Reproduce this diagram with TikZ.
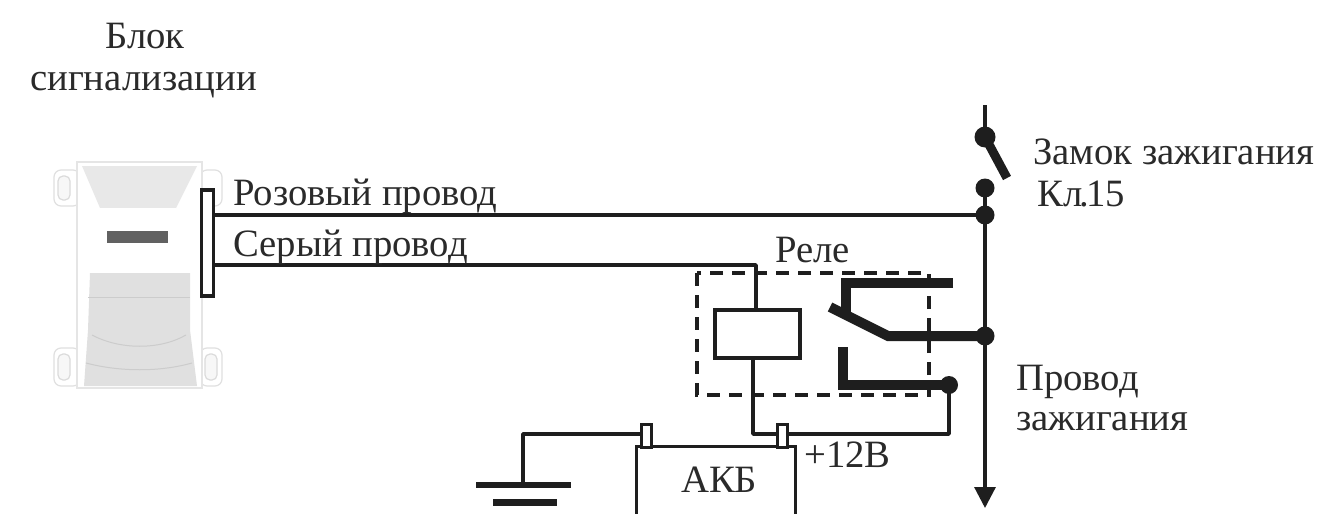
\documentclass[tikz,border=0pt]{standalone}
\usepackage{fontspec}
\setmainfont{Liberation Serif}
\usetikzlibrary{arrows.meta}
\definecolor{ink}{HTML}{1E1E1E}
\definecolor{txt}{HTML}{2A2A2A}
\tikzset{
  x=1pt,y=-1pt,
  wire/.style={draw=ink,line width=3.6pt,line join=round},
  thin wire/.style={draw=ink,line width=3.2pt},
  heavy/.style={draw=ink,line width=10pt,line join=miter},
  dot/.style={circle,fill=ink,inner sep=0pt,minimum size=#1},
  lab/.style={font=\fontsize{38.7}{44}\selectfont,text=txt,inner sep=0pt,anchor=base west},
  ear/.style={draw=black!12,line width=1.2pt,fill=white,rounded corners=7pt},
  hole/.style={draw=black!14,line width=1.2pt,fill=black!3,rounded corners=5pt},
  shell/.style={draw=black!10,line width=1.2pt,fill=white},
}
\begin{document}
\begin{tikzpicture}
\path[use as bounding box,fill=white] (0,0) rectangle (1318,514);
% alarm unit
\draw[ear] (54,170) rectangle (80,206);
\draw[hole] (58,176) rectangle (70,200);
\draw[ear] (200,170) rectangle (222,206);
\draw[ear] (54,348) rectangle (80,386);
\draw[hole] (58,354) rectangle (70,380);
\draw[ear] (200,348) rectangle (222,386);
\draw[hole] (205,354) rectangle (217,380);
\draw[shell] (77,162) rectangle (202,388);
\fill[black!9] (82,166) -- (197,166) -- (176,208) -- (100,208) -- cycle;
\fill[black!12] (90,273) -- (190,273) -- (190,330) -- (197,386) -- (84,386) -- (88,330) -- cycle;
\draw[black!20,line width=1pt] (88,297) -- (190,297);
\draw[black!20,line width=1pt] (92,335) .. controls (120,350) and (160,350) .. (186,335);
\draw[black!20,line width=1pt] (86,363) .. controls (120,372) and (160,372) .. (192,363);
\fill[white] (100,208) rectangle (176,273);
\fill[black!62] (107,231) rectangle (168,243);
% connector bar
\node[draw=ink,line width=3.4pt,fill=white,inner sep=0pt,minimum width=12pt,minimum height=106pt] (bar) at (207.5,243) {};
% wires
\coordinate (pinkL) at (bar.east |- 0,215);
\coordinate (greyL) at (bar.east |- 0,265);
\node[dot=19pt] (junction) at (985,215) {};
\node[dot=21pt] (swTop) at (985,137) {};
\node[dot=19pt] (swBot) at (985,188) {};
\node[dot=19pt] (relayJ) at (985,336) {};
\node[dot=18pt] (nc) at (949,385) {};
\coordinate (top) at (985,105);
\coordinate (tip) at (985,508);
\draw[wire] (pinkL) -- (junction.center);
\draw[thin wire] (top) -- (swTop.center);
\draw[thin wire] (junction.center) -- (relayJ.center);
\draw[thin wire,-{Triangle[width=21pt,length=21pt]}] (relayJ.center) -- (tip);
\draw[thin wire] (swBot.center) -- (junction.center);
\draw[draw=ink,line width=9pt] (swTop.center) -- (1007,178);
% relay
\node[draw=ink,line width=3.4pt,fill=white,inner sep=0pt,minimum width=85pt,minimum height=48pt] (coil) at (757.5,334) {};
\draw[wire] (greyL) -- (756,265) -- (756,310);
\draw[draw=ink,line width=3.2pt,dash pattern=on 13pt off 9pt] (697,273) rectangle (929,395);
\draw[heavy] (953,283) -- (846,283) -- (846,312);
\draw[heavy] (830,307) -- (888,336) -- (relayJ.center);
\draw[heavy] (843,347) -- (843,385) -- (nc.center);
% battery
\node[draw=ink,line width=3.4pt,inner sep=0pt,minimum width=159pt,minimum height=90pt,anchor=north west] (akb) at (635,445) {};
\node[draw=ink,line width=3pt,fill=white,inner sep=0pt,minimum width=10pt,minimum height=23pt] (tL) at (646,436) {};
\node[draw=ink,line width=3pt,fill=white,inner sep=0pt,minimum width=10pt,minimum height=23pt] (tR) at (782,436) {};
\draw[wire] (753,358) -- (753,434) -- (tR.west |- 0,434);
\draw[wire] (tR.east |- 0,434) -- (949,434) -- (nc.center);
\draw[wire] (tL.west |- 0,434) -- (523,434) -- (523,485);
% ground
\coordinate (g1a) at (476,485); \coordinate (g1b) at (571,485);
\coordinate (g2a) at (493,502); \coordinate (g2b) at (557,502);
\draw[draw=ink,line width=6.5pt] (g1a) -- (g1b);
\draw[draw=ink,line width=7pt] (g2a) -- (g2b);
% labels
\node[lab,anchor=base] (l1) at (145,48) {Блок};
\node[lab,anchor=base] (l2) at (143.5,90) {сигнализации};
\node[lab] (l3) at (233,205) {Розовый провод};
\node[lab] (l4) at (233,256) {Серый провод};
\node[lab] (l5) at (775,262) {Реле};
\node[lab] (l6) at (1033,164) {Замок зажигания};
\node[lab] (l7) at (1037,206) {Кл\kern-3pt.\kern-3pt15};
\node[lab] (l8) at (1016,390) {Провод};
\node[lab] (l9) at (1016,430) {зажигания};
\node[lab] (l10) at (681,492) {АКБ};
\node[lab] (l11) at (804,467) {+12В};
\end{tikzpicture}
\end{document}
